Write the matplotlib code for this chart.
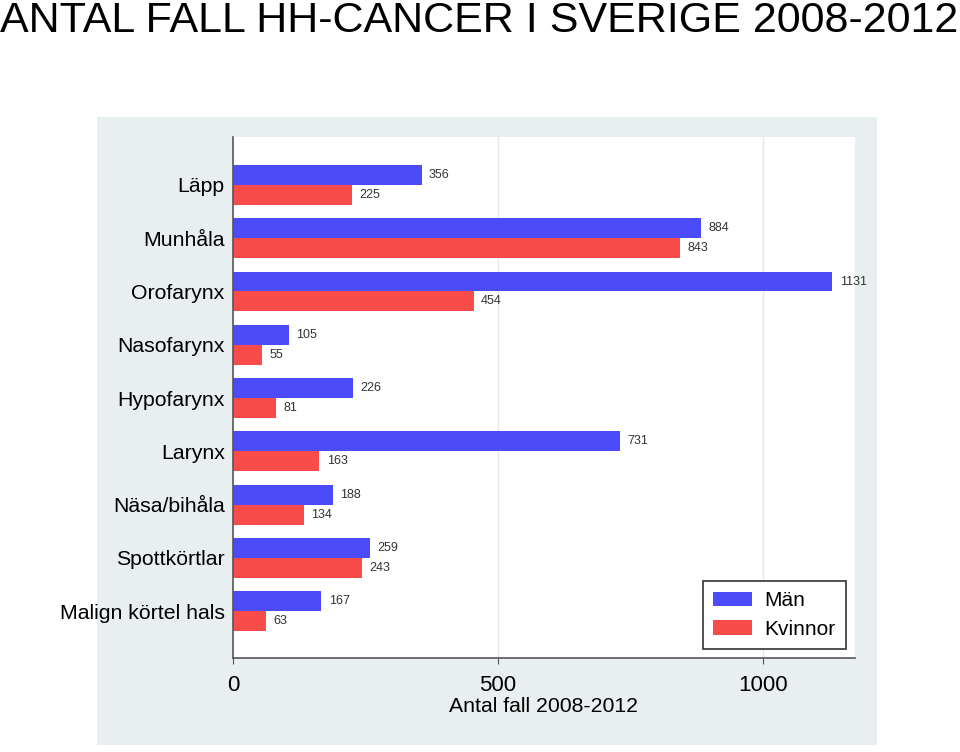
import matplotlib.pyplot as plt
import matplotlib.patches as patches
import numpy as np

# data
kategorier = ["Läpp", "Munhåla", "Orofarynx", "Nasofarynx", "Hypofarynx",
              "Larynx", "Näsa/bihåla", "Spottkörtlar", "Malign körtel hals"]
man = [356, 884, 1131, 105, 226, 731, 188, 259, 167]
kvinnor = [225, 843, 454, 55, 81, 163, 134, 243, 63]
xticks = [0, 500, 1000]

blue = "#4B4BFA"
red = "#FA4B4B"
panel = "#E9EEF0"

plt.rcParams['font.family'] = ['Liberation Sans', 'DejaVu Sans']

fig = plt.figure(figsize=(9.6, 7.52), dpi=100)

# grey panel behind the chart
fig.patches.append(patches.Rectangle((0.101, 0.0093), 0.8125, 0.835,
                                     transform=fig.transFigure, facecolor=panel,
                                     edgecolor='none', zorder=-10))

fig.text(0.0, 0.999, "ANTAL FALL HH-CANCER I SVERIGE 2008-2012",
         fontsize=31, va='top', ha='left')

ax = fig.add_axes([0.2427, 0.125, 0.6479, 0.6928])
ax.set_facecolor('white')

y = np.arange(len(kategorier))
h = 0.375
ax.barh(y - h/2, man, height=h, color=blue, label="Män", zorder=2)
ax.barh(y + h/2, kvinnor, height=h, color=red, label="Kvinnor", zorder=2)

for i in range(len(kategorier)):
    ax.text(man[i] + 14, y[i] - h/2, str(man[i]), fontsize=9,
            va='center', ha='left', color='#333333')
    ax.text(kvinnor[i] + 14, y[i] + h/2, str(kvinnor[i]), fontsize=9,
            va='center', ha='left', color='#333333')

ax.set_ylim(8.88, -0.9)
ax.set_xlim(0, 1174)
ax.set_yticks(y)
ax.set_yticklabels(kategorier, fontsize=15.3)
ax.tick_params(axis='y', length=0, pad=6)
ax.set_xticks(xticks)
ax.set_xticklabels([str(t) for t in xticks], fontsize=16)
ax.tick_params(axis='x', length=4, color='#555555', pad=8)
ax.set_xlabel("Antal fall 2008-2012", fontsize=15.3, labelpad=1)

for t in xticks[1:]:
    ax.axvline(t, color='#E4E8EA', lw=1, zorder=1)

for s in ['top', 'right']:
    ax.spines[s].set_visible(False)
ax.spines['left'].set_color('#555555')
ax.spines['bottom'].set_color('#555555')
ax.spines['left'].set_linewidth(1.2)
ax.spines['bottom'].set_linewidth(1.2)

leg = ax.legend(loc='lower right', fontsize=15, fancybox=False, framealpha=1,
                edgecolor='#333333', handlelength=1.85, handleheight=0.7,
                handletextpad=0.6, borderpad=0.5, labelspacing=0.45,
                borderaxespad=0, bbox_to_anchor=(0.9855, 0.0173))
leg.get_frame().set_linewidth(1.2)

plt.savefig("out.png", dpi=100)
